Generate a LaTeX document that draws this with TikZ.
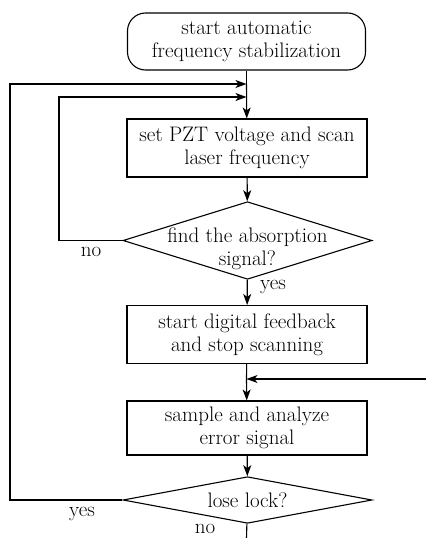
\documentclass[tikz,border=0pt]{standalone}
\usetikzlibrary{shapes.geometric,arrows.meta}
\begin{document}
\begin{tikzpicture}[x=1pt,y=-1pt,
  line width=1.1pt,
  every node/.style={font=\fontsize{21}{23}\selectfont},
  proc/.style={draw,rectangle,minimum width=240pt,minimum height=58pt,align=center,inner sep=0pt},
  term/.style={draw,rectangle,rounded corners=18pt,minimum width=238pt,minimum height=57pt,align=center,inner sep=0pt},
  dec/.style={draw,diamond,minimum width=249pt,inner sep=0pt},
  arr/.style={-{Stealth[length=11pt,width=8pt,inset=3pt]}},
  lbl/.style={inner sep=0pt}
]
\useasboundingbox (0,0) rectangle (426,538);
\node[term] (start) at (246.5,41.5) {start automatic\\frequency stabilization};
\node[proc] (b1) at (247,148) {set PZT voltage and scan\\laser frequency};
\node[dec,minimum height=77.6pt,label={[align=center,yshift=-8pt]center:find the absorption\\signal?}] (d1) at (247.5,240.5) {};
\node[proc] (b2) at (247,334.5) {start digital feedback\\and stop scanning};
\node[proc,minimum height=54pt] (b3) at (247,428) {sample and analyze\\error signal};
\node[dec,minimum height=46.6pt,label={[yshift=0pt]center:lose lock?}] (d2) at (247.5,500) {};
\coordinate (j1) at (246.5,84);
\coordinate (j2) at (246.5,97);
\coordinate (j3) at (246.5,379);
\coordinate (rin) at (426,379);
\coordinate (bot) at (246.5,538);
\coordinate (lo) at (10,500);
\coordinate (li) at (59,240.5);
\draw (start) -- (j1);
\draw[arr] (j1) -- (b1);
\draw[arr] (b1) -- (d1);
\draw[arr] (d1) -- (b2);
\draw (b2) -- (j3);
\draw[arr] (j3) -- (b3);
\draw[arr] (b3) -- (d2);
\draw (d2) -- (bot);
\draw[arr] (d1.west) -- (li) -- (li |- j2) -- (j2);
\draw[arr] (d2.west) -- (lo) -- (lo |- j1) -- (j1);
\draw[arr] (rin) -- (j3);
\node[lbl] (no1) at (91,252) {no};
\node[lbl] (yes1) at (273,287) {yes};
\node[lbl] (yes2) at (82,514) {yes};
\node[lbl] (no2) at (205,529) {no};
\end{tikzpicture}
\end{document}
